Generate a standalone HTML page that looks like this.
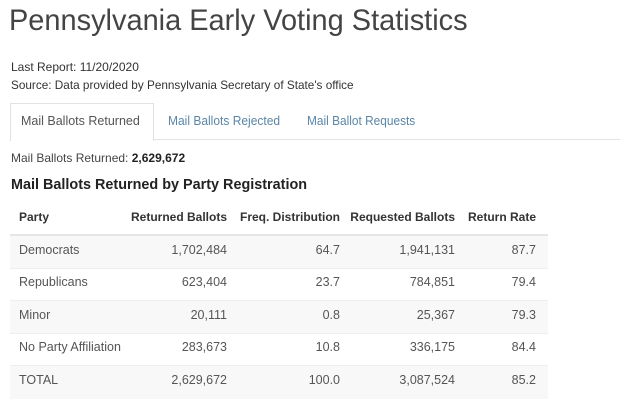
<!DOCTYPE html>
<html><head><style>
body{margin:0;width:620px;height:415px;background:#fff;font-family:"Liberation Sans",sans-serif;position:relative;overflow:hidden;color:#333}
.a{position:absolute;white-space:nowrap}
</style></head><body>
<div class="a" style="left:9px;top:4px;font-size:30px;color:#444;transform:scaleX(0.965);transform-origin:left top">Pennsylvania Early Voting Statistics</div>
<div class="a" style="left:11px;top:60px;font-size:12px;color:#333">Last Report: 11/20/2020</div>
<div class="a" style="left:11px;top:78px;font-size:12px;color:#333;transform:scaleX(0.98);transform-origin:left top">Source: Data provided by Pennsylvania Secretary of State's office</div>
<div class="a" style="left:10px;top:103px;width:142px;height:37px;border:1px solid #e2e2e2;border-bottom:none;background:#fff"></div>
<div class="a" style="left:153px;top:139px;width:467px;height:1px;background:#e2e2e2"></div>
<div class="a" style="left:21px;top:114px;font-size:12.5px;color:#555">Mail Ballots Returned</div>
<div class="a" style="left:168px;top:114px;font-size:12.5px;color:#5a86a8;transform:scaleX(0.96);transform-origin:left top">Mail Ballots Rejected</div>
<div class="a" style="left:307px;top:114px;font-size:12.5px;color:#5a86a8;transform:scaleX(0.95);transform-origin:left top">Mail Ballot Requests</div>
<div class="a" style="left:11px;top:151px;font-size:12px;color:#444">Mail Ballots Returned: <b style="color:#222">2,629,672</b></div>
<div class="a" style="left:11px;top:176px;font-size:15px;font-weight:bold;color:#222;transform:scaleX(0.96);transform-origin:left top">Mail Ballots Returned by Party Registration</div>
<div class="a" style="left:10px;top:234px;width:538px;height:2px;background:#e6e6e6"></div>
<div class="a" style="left:10px;top:236px;width:538px;height:32px;background:#f8f8f8"></div>
<div class="a" style="left:10px;top:268px;width:538px;height:1px;background:#eee"></div>
<div class="a" style="left:10px;top:300px;width:538px;height:33px;background:#f8f8f8;border-top:1px solid #eee"></div>
<div class="a" style="left:10px;top:333px;width:538px;height:1px;background:#eee"></div>
<div class="a" style="left:10px;top:365px;width:538px;height:33px;background:#f8f8f8;border-top:1px solid #eee"></div>
<div id="t"></div>
<script>
var rows=[["Party","Returned Ballots","Freq. Distribution","Requested Ballots","Return Rate"],
["Democrats","1,702,484","64.7","1,941,131","87.7"],
["Republicans","623,404","23.7","784,851","79.4"],
["Minor","20,111","0.8","25,367","79.3"],
["No Party Affiliation","283,673","10.8","336,175","84.4"],
["TOTAL","2,629,672","100.0","3,087,524","85.2"]];
var ys=[210,243,275,308,340,373],rx=[227,340,455,536],h="";
rows.forEach(function(r,i){var st=i==0?"font-weight:bold;color:#333;font-size:12px;":"color:#555;font-size:12.5px;";
h+='<div class="a" style="left:19px;top:'+ys[i]+'px;'+st+'">'+r[0]+'</div>';
for(var j=1;j<5;j++)h+='<div class="a" style="right:'+(620-rx[j-1])+'px;top:'+ys[i]+'px;'+st+'">'+r[j]+'</div>';});
document.getElementById("t").innerHTML=h;
</script>
</body></html>
